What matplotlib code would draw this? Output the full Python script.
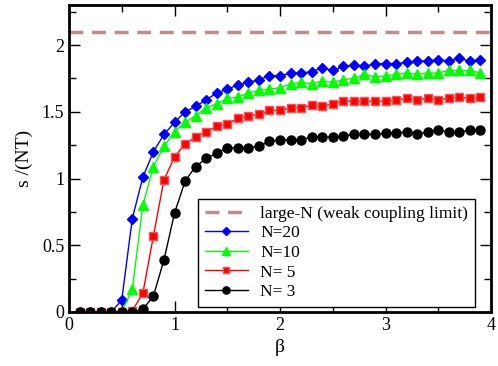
import numpy as np
import matplotlib.pyplot as plt
from matplotlib.ticker import MultipleLocator, FormatStrFormatter

plt.rcParams['font.family'] = ['Liberation Serif', 'DejaVu Serif']
plt.rcParams['mathtext.fontset'] = 'stix'

# beta values: 0.1 .. 3.9
beta = [round(0.1 * i, 1) for i in range(1, 40)]

large_n = 2.1

s_n20 = [0, 0, 0, 0, 0.09, 0.70, 1.01, 1.20, 1.33, 1.42,
         1.50, 1.54, 1.59, 1.64, 1.67, 1.70, 1.72, 1.74, 1.77, 1.77,
         1.79, 1.79, 1.80, 1.83, 1.81, 1.84, 1.85, 1.84, 1.86, 1.86,
         1.86, 1.87, 1.88, 1.88, 1.89, 1.88, 1.90, 1.88, 1.89]
s_n10 = [0, 0, 0, 0, 0, 0.17, 0.80, 1.09, 1.24, 1.35,
         1.42, 1.47, 1.53, 1.56, 1.60, 1.61, 1.64, 1.66, 1.67, 1.68,
         1.71, 1.72, 1.71, 1.73, 1.72, 1.74, 1.75, 1.78, 1.76, 1.77,
         1.78, 1.79, 1.78, 1.79, 1.79, 1.81, 1.81, 1.81, 1.79]
s_n5 = [0, 0, 0, 0, 0, 0.01, 0.14, 0.57, 0.99, 1.16,
        1.26, 1.31, 1.35, 1.39, 1.41, 1.45, 1.47, 1.48, 1.51, 1.51,
        1.53, 1.53, 1.55, 1.54, 1.56, 1.58, 1.58, 1.58, 1.58, 1.58,
        1.59, 1.60, 1.59, 1.60, 1.59, 1.60, 1.61, 1.60, 1.61]
s_n3 = [0, 0, 0, 0, 0, 0, 0.02, 0.12, 0.39, 0.74,
        0.98, 1.09, 1.15, 1.19, 1.23, 1.23, 1.23, 1.24, 1.28, 1.29,
        1.29, 1.29, 1.31, 1.31, 1.31, 1.32, 1.33, 1.33, 1.33, 1.34,
        1.34, 1.35, 1.33, 1.35, 1.36, 1.35, 1.35, 1.36, 1.36]

fig = plt.figure(figsize=(4.98, 3.66), dpi=100)
ax = fig.add_axes([69 / 498, 1 - 312 / 366, 422 / 498, 307 / 366])

ax.axhline(large_n, color='#bc8f8f', linestyle=(0, (4, 2.5)), linewidth=2.5,
           label='large-N (weak coupling limit)')
ax.plot(beta, s_n20, color='blue', marker='D', markersize=5.5, linewidth=1,
        label='N=20')
ax.plot(beta, s_n10, color='#00ff00', marker='^', markersize=6.5, linewidth=1,
        label='N=10')
ax.plot(beta, s_n5, color='red', marker='s', markersize=5.5, linewidth=1,
        markeredgecolor='#ff5050', label='N= 5')
ax.plot(beta, s_n3, color='black', marker='o', markersize=6.5, linewidth=1,
        label='N= 3')

ax.set_xlim(0, 4)
ax.set_ylim(0, 2.3)
ax.xaxis.set_major_locator(MultipleLocator(1))
ax.xaxis.set_minor_locator(MultipleLocator(0.5))
ax.yaxis.set_major_locator(MultipleLocator(0.5))
ax.yaxis.set_minor_locator(MultipleLocator(0.25))
ax.xaxis.set_major_formatter(FormatStrFormatter('%g'))
ax.yaxis.set_major_formatter(FormatStrFormatter('%g'))
ax.tick_params(which='both', direction='in', top=True, right=True,
               labelsize=13, width=1)
ax.tick_params(which='major', length=8)
ax.tick_params(which='minor', length=5)
for sp in ax.spines.values():
    sp.set_linewidth(2)

ax.set_xlabel(r'$\mathregular{\beta}$', fontsize=14, labelpad=2)
ax.set_ylabel('s /(NT)', fontsize=14, labelpad=6)

leg = ax.legend(loc='lower right', bbox_to_anchor=(0.962, 0.016), fontsize=12.5,
                fancybox=False, edgecolor='black', framealpha=1,
                handlelength=2.5, borderpad=0.4, labelspacing=0.2,
                handletextpad=0.7, borderaxespad=0, markerscale=0.8)
leg.get_frame().set_linewidth(1)

fig.savefig('out.png', dpi=100)
